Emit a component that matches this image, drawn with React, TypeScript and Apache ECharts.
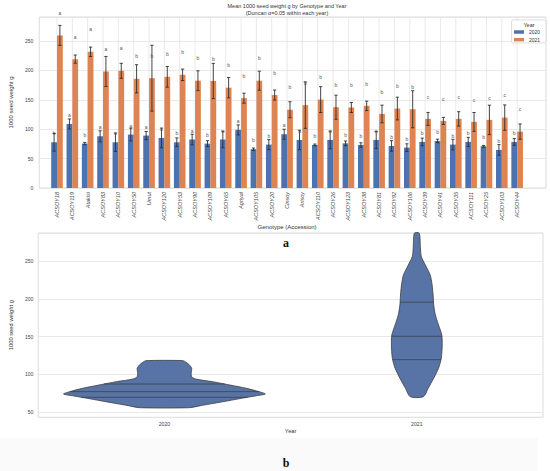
import React, { useEffect, useRef } from 'react';
import * as echarts from 'echarts';

const genotypes = [
  'ACSOY18', 'ACSOY119', 'Atakisi', 'ACSOY83', 'ACSOY10', 'ACSOY50', 'Umut', 'ACSOY120',
  'ACSOY53', 'ACSOY90', 'ACSOY109', 'ACSOY65', 'Agriyal', 'ACSOY105', 'ACSOY20', 'Cinsoy',
  'Arisoy', 'ACSOY110', 'ACSOY26', 'ACSOY123', 'ACSOY38', 'ACSOY81', 'ACSOY92', 'ACSOY106',
  'ACSOY39', 'ACSOY41', 'ACSOY35', 'ACSOY111', 'ACSOY25', 'ACSOY103', 'ACSOY44',
];
const mean2020 = [
  77.8, 109, 75.6, 88, 77.8, 90.9, 89.2, 85.2, 77.8, 82.5, 75.5, 82.5, 98.9, 66, 73.9, 91.5,
  81.8, 73.3, 81.8, 76, 73.3, 81.8, 71.6, 68.7, 78.4, 80.1, 73.9, 78.4, 71, 64.8, 78.4,
];
const err2020 = [
  15, 8.5, 2, 9.4, 15.6, 10.8, 7, 16.8, 7.4, 9, 5, 14, 8.5, 2, 8.5, 8.5,
  16.5, 1.5, 15, 4, 3.7, 14.5, 9, 6.5, 6.5, 3, 9, 7.7, 1.5, 9, 5.7,
];
const letters2020 = [
  'b', 'a', 'b', 'a', 'a', 'a', 'a', 'a', 'b', 'a', 'b', 'a', 'a', 'b', 'b', 'a',
  'a', 'b', 'a', 'b', 'b', 'a', 'b', 'b', 'b', 'b', 'b', 'b', 'b', 'b', 'b',
];
const mean2021 = [
  259.7, 219.3, 231.8, 198.3, 199.4, 185.8, 186.9, 189.2, 192.6, 182.6, 182.1, 170.7, 152.8, 182.6, 158.2, 133.2,
  141, 150.5, 137.5, 137, 139.8, 126, 135.2, 134, 117.6, 114.2, 117.6, 112.5, 115.9, 119.8, 96,
];
const err2021 = [
  17, 7, 8, 25.6, 12.8, 24, 56, 17.6, 9.7, 16.8, 30, 17.3, 8.5, 16.2, 8.5, 13.6,
  39.5, 22, 20.4, 8.5, 8, 15, 19.3, 31.5, 11, 6, 12.2, 16, 25, 21.6, 13,
];
const letters2021 = [
  'a', 'a', 'a', 'a', 'a', 'b', 'b', 'b', 'b', 'b', 'b', 'b', 'b', 'b', 'b', 'b',
  'b', 'b', 'b', 'b', 'b', 'b', 'b', 'b', 'c', 'c', 'c', 'c', 'c', 'c', 'c',
];
const yearNames = ['2020', '2021'];

// Violin profiles: seed weight values and relative half-width (fraction of category band)
const violin2020Values = [56.1, 58.8, 61.9, 65.4, 68.5, 71.6, 74.2, 77.3, 81.7, 86.1, 90.5, 94, 97, 101.6, 108.2, 112.6, 116.1, 118.3];
const violin2020Widths = [0.099, 0.143, 0.196, 0.255, 0.306, 0.359, 0.4, 0.375, 0.325, 0.259, 0.19, 0.124, 0.108, 0.106, 0.108, 0.099, 0.086, 0.073];
const violin2021Values = [70.6, 81.7, 95, 108.2, 121.4, 139, 152.2, 165.5, 178.7, 192, 205, 218.4, 231.6, 244.8, 255.8, 266.9, 286.8];
const violin2021Widths = [0.026, 0.045, 0.067, 0.086, 0.097, 0.1006, 0.099, 0.086, 0.0735, 0.067, 0.0646, 0.0607, 0.053, 0.0337, 0.018, 0.0143, 0.0097];
const quart2020 = [69.8, 77.3, 87.4];
const quart2021 = [119.6, 150.5, 195.6];

const BAR_W = 5.8;
const TOP_MIN = 0;
const TOP_MAX = 291;
const V_MIN = 43.4;
const V_MAX = 287;
const FONT = 'Liberation Sans, Arial, sans-serif';

function interp(xs: number[], ys: number[], x: number) {
  for (let k = 0; k < xs.length - 1; k++) {
    if (x >= xs[k] && x <= xs[k + 1]) {
      const t = (x - xs[k]) / (xs[k + 1] - xs[k]);
      return ys[k] + t * (ys[k + 1] - ys[k]);
    }
  }
  return 0;
}

function errSeries(name: string, means: number[], errs: number[], letters: string[], side: number, letterOff: number) {
  return {
    name: name + '-err',
    type: 'custom',
    xAxisIndex: 1,
    yAxisIndex: 1,
    z: 5,
    silent: true,
    clip: false,
    data: means.map((m, i) => [i, m, errs[i]]),
    renderItem: (params: any, api: any) => {
      const i = api.value(0);
      const m = api.value(1);
      const e = api.value(2);
      const top = api.coord([i, m + e]);
      const bot = api.coord([i, m - e]);
      const x = top[0] + (side * BAR_W) / 2;
      const cap = 1.6;
      const lp = api.coord([i, m + letterOff]);
      const st = { stroke: '#2f2f2f', lineWidth: 0.9 };
      return {
        type: 'group',
        children: [
          { type: 'line', shape: { x1: x, y1: top[1], x2: x, y2: bot[1] }, style: st },
          { type: 'line', shape: { x1: x - cap, y1: top[1], x2: x + cap, y2: top[1] }, style: st },
          { type: 'line', shape: { x1: x - cap, y1: bot[1], x2: x + cap, y2: bot[1] }, style: st },
          {
            type: 'text',
            x: x,
            y: lp[1],
            style: {
              text: letters[params.dataIndex],
              fontSize: 5,
              fontFamily: FONT,
              fill: '#555',
              align: 'center',
              verticalAlign: 'middle',
            },
          },
        ],
      };
    },
  };
}

const violinProfiles = [
  { vals: violin2020Values, w: violin2020Widths, q: quart2020 },
  { vals: violin2021Values, w: violin2021Widths, q: quart2021 },
];

export default function App() {
  const ref = useRef<HTMLDivElement>(null);
  useEffect(() => {
    const chart = echarts.init(ref.current!, null, { renderer: 'svg' });
    const option: any = {
      animation: false,
      backgroundColor: '#ffffff',
      textStyle: { fontFamily: FONT },
      legend: {
        data: yearNames,
        orient: 'vertical',
        left: 514,
        top: 29,
        itemWidth: 10,
        itemHeight: 3.5,
        itemGap: 1.7,
        padding: 0,
        icon: 'rect',
        z: 20,
        textStyle: { fontSize: 5, color: '#333', lineHeight: 6, fontFamily: FONT },
      },
      grid: [
        { left: 28, top: 17, width: 518, height: 171, show: true, borderColor: '#d2d2d2', borderWidth: 0.8 },
        { left: 49.33, top: 17, width: 475.5, height: 171, show: false },
        { left: 26, top: 233, width: 517, height: 184.3, show: true, borderColor: '#d2d2d2', borderWidth: 0.8 },
      ],
      xAxis: [
        { gridIndex: 0, type: 'value', min: 0, max: 1, show: false },
        {
          gridIndex: 1,
          type: 'category',
          data: genotypes,
          axisLine: { show: false },
          axisTick: { show: false },
          splitLine: { show: false },
          axisLabel: { rotate: 90, interval: 0, fontSize: 5.5, margin: 4, color: '#444', fontStyle: 'italic' },
          name: 'Genotype (Accession)',
          nameLocation: 'middle',
          nameGap: 34,
          nameTextStyle: { fontSize: 6, color: '#333' },
        },
        {
          gridIndex: 2,
          type: 'category',
          data: yearNames,
          axisLine: { show: false },
          axisTick: { show: false },
          splitLine: { show: false },
          axisLabel: { fontSize: 5.2, margin: 4, color: '#444' },
          name: 'Year',
          nameLocation: 'middle',
          nameGap: 10.5,
          nameTextStyle: { fontSize: 5.7, color: '#333' },
        },
      ],
      yAxis: [
        {
          gridIndex: 0,
          type: 'value',
          min: TOP_MIN,
          max: TOP_MAX,
          interval: 50,
          axisLine: { show: false },
          axisTick: { show: false },
          axisLabel: { fontSize: 5, margin: 6, color: '#444', showMaxLabel: false },
          splitLine: { lineStyle: { color: '#e3e3e3', width: 0.8 } },
          name: '1000 seed weight g',
          nameLocation: 'middle',
          nameGap: 15,
          nameTextStyle: { fontSize: 6, color: '#333' },
        },
        { gridIndex: 1, type: 'value', min: TOP_MIN, max: TOP_MAX, show: false, splitLine: { show: false } },
        {
          gridIndex: 2,
          type: 'value',
          min: V_MIN,
          max: V_MAX,
          splitNumber: 5,
          axisLine: { show: false },
          axisTick: { show: false },
          axisLabel: { fontSize: 5, margin: 5, color: '#444', showMinLabel: false, showMaxLabel: false },
          splitLine: { lineStyle: { color: '#e3e3e3', width: 0.8 } },
          name: '1000 seed weight g',
          nameLocation: 'middle',
          nameGap: 16,
          nameTextStyle: { fontSize: 5.8, color: '#333' },
        },
      ],
      series: [
        {
          name: 'vgrid',
          type: 'custom',
          xAxisIndex: 1,
          yAxisIndex: 1,
          z: 1,
          silent: true,
          data: genotypes.map((_, i) => [i, 0]),
          renderItem: (params: any, api: any) => {
            const a = api.coord([api.value(0), TOP_MIN]);
            const b = api.coord([api.value(0), TOP_MAX]);
            return {
              type: 'line',
              shape: { x1: a[0], y1: a[1], x2: b[0], y2: b[1] },
              style: { stroke: '#e3e3e3', lineWidth: 0.8 },
            };
          },
        },
        {
          name: '2020',
          type: 'bar',
          xAxisIndex: 1,
          yAxisIndex: 1,
          data: mean2020,
          barWidth: BAR_W,
          barGap: '0%',
          itemStyle: { color: '#4c72b0' },
          z: 2,
        },
        {
          name: '2021',
          type: 'bar',
          xAxisIndex: 1,
          yAxisIndex: 1,
          data: mean2021,
          barWidth: BAR_W,
          barGap: '0%',
          itemStyle: { color: '#dd8452' },
          z: 2,
        },
        errSeries('2020', mean2020, err2020, letters2020, -1, 15),
        errSeries('2021', mean2021, err2021, letters2021, 1, 38),
        {
          name: 'violin',
          type: 'custom',
          xAxisIndex: 2,
          yAxisIndex: 2,
          z: 3,
          silent: true,
          clip: false,
          data: violinProfiles.map((p, i) => [i, p.vals[0]]),
          renderItem: (params: any, api: any) => {
            const idx = params.dataIndex;
            const prof = violinProfiles[idx];
            const band = api.size([1, 0])[0];
            const cx = api.coord([idx, prof.vals[0]])[0];
            const right = prof.vals.map((v, k) => [cx + prof.w[k] * band, api.coord([idx, v])[1]]);
            const left = prof.vals.map((v, k) => [cx - prof.w[k] * band, api.coord([idx, v])[1]]).reverse();
            const children: any[] = [
              {
                type: 'polygon',
                shape: { points: right.concat(left), smooth: 0.25 },
                style: { fill: '#5874a6', stroke: '#3d3d3d', lineWidth: 0.8 },
              },
            ];
            prof.q.forEach((q) => {
              const hw = interp(prof.vals, prof.w, q) * band;
              const y = api.coord([idx, q])[1];
              children.push({
                type: 'line',
                shape: { x1: cx - hw, y1: y, x2: cx + hw, y2: y },
                style: { stroke: '#3a3a3a', lineWidth: 0.7 },
              });
            });
            return { type: 'group', children };
          },
        },
      ],
      graphic: [
        {
          type: 'rect',
          z: 15,
          shape: { x: 511.5, y: 20, width: 34.5, height: 23, r: 1.5 },
          style: { fill: '#ffffff', stroke: '#d0d0d0', lineWidth: 0.7 },
        },
        {
          type: 'text',
          z: 16,
          x: 529,
          y: 24.5,
          style: { text: 'Year', fontSize: 5.5, fill: '#333', fontFamily: FONT, align: 'center', verticalAlign: 'middle' },
        },
        {
          type: 'text',
          z: 16,
          x: 287,
          y: 2.5,
          style: {
            text: 'Mean 1000 seed weight g by Genotype and Year\n(Duncan α=0.05 within each year)',
            fontSize: 5.5,
            lineHeight: 7,
            fill: '#333',
            fontFamily: FONT,
            align: 'center',
            verticalAlign: 'top',
          },
        },
        {
          type: 'rect',
          z: -1,
          shape: { x: 0, y: 438, width: 538, height: 33 },
          style: { fill: '#fafafa' },
        },
        {
          type: 'text',
          z: 16,
          x: 286,
          y: 243,
          style: { text: 'a', fontSize: 12, fontWeight: 'bold', fill: '#111', fontFamily: 'Liberation Serif, serif', align: 'center', verticalAlign: 'middle' },
        },
        {
          type: 'text',
          z: 16,
          x: 286,
          y: 463,
          style: { text: 'b', fontSize: 12, fontWeight: 'bold', fill: '#111', fontFamily: 'Liberation Serif, serif', align: 'center', verticalAlign: 'middle' },
        },
      ],
    };
    chart.setOption(option);
    return () => chart.dispose();
  }, []);
  return (
    <div
      ref={ref}
      style={{ position: 'fixed', left: 0, top: 0, width: 550, height: 471, background: '#fff' }}
    />
  );
}
